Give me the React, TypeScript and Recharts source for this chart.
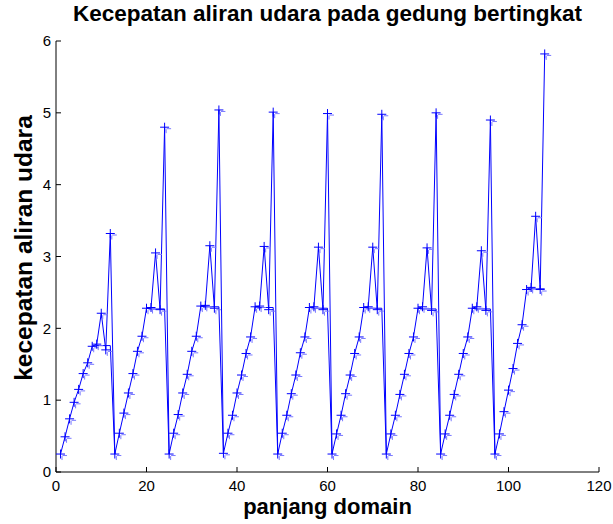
import React from 'react';
import { LineChart, Line, XAxis, YAxis } from 'recharts';

// Kecepatan aliran udara per siklus (12 titik per siklus, x = 1..108)
const cycle1 = [0.25, 0.49, 0.74, 0.97, 1.15, 1.37, 1.52, 1.75, 1.78, 2.21, 1.70, 3.32];
const cycle2 = [0.25, 0.54, 0.82, 1.10, 1.37, 1.68, 1.89, 2.28, 2.29, 3.05, 2.26, 4.80];
const cycle3 = [0.25, 0.54, 0.80, 1.10, 1.36, 1.68, 1.89, 2.31, 2.32, 3.15, 2.28, 5.04];
const cycle4 = [0.26, 0.54, 0.79, 1.10, 1.35, 1.65, 1.88, 2.30, 2.31, 3.14, 2.26, 5.01];
const cycle5 = [0.25, 0.54, 0.79, 1.09, 1.35, 1.66, 1.88, 2.29, 2.30, 3.13, 2.26, 4.99];
const cycle6 = [0.25, 0.53, 0.79, 1.09, 1.35, 1.65, 1.88, 2.29, 2.30, 3.13, 2.26, 4.98];
const cycle7 = [0.25, 0.53, 0.79, 1.08, 1.36, 1.65, 1.88, 2.28, 2.30, 3.12, 2.25, 5.00];
const cycle8 = [0.25, 0.53, 0.79, 1.08, 1.36, 1.65, 1.88, 2.28, 2.30, 3.08, 2.25, 4.90];
const cycle9 = [0.25, 0.53, 0.84, 1.14, 1.44, 1.79, 2.05, 2.54, 2.57, 3.56, 2.54, 5.82];

// level of the second (flat) line over the last four points of each cycle
const plateauLevels = [1.76, 2.27, 2.30, 2.29, 2.28, 2.28, 2.27, 2.27, 2.55];

const xTicks = [0, 20, 40, 60, 80, 100, 120];
const yTicks = [0, 1, 2, 3, 4, 5, 6];

const cycles = [cycle1, cycle2, cycle3, cycle4, cycle5, cycle6, cycle7, cycle8, cycle9];
const data = cycles.flatMap((c, ci) =>
  c.map((v, i) => {
    let base: number | null = null;
    if (i === 7) base = v;
    else if (i > 7) base = plateauLevels[ci];
    else if (i === 0 && ci > 0) base = v;
    return { x: ci * c.length + i + 1, speed: v, base };
  })
);

const FONT = '"Liberation Sans", Arial, Helvetica, sans-serif';

const PlusDot = (props: any) => {
  const { cx, cy } = props;
  if (cx == null || cy == null) return null;
  return (
    <g>
      <line x1={cx + 2} x2={cx + 6.5} y1={cy + 1.5} y2={cy + 1.5} stroke="#7a7aff" strokeWidth={1} />
      <line x1={cx + 1.5} x2={cx + 1.5} y1={cy + 2} y2={cy + 6} stroke="#7a7aff" strokeWidth={1} />
      <line x1={cx - 4.5} x2={cx + 4.5} y1={cy} y2={cy} stroke="#0000ff" strokeWidth={1} />
      <line x1={cx} x2={cx} y1={cy - 4.5} y2={cy + 4.5} stroke="#0000ff" strokeWidth={1} />
    </g>
  );
};

const empty = () => '';

export default function App() {
  return (
    <div style={{ position: 'absolute', left: 0, top: 0, width: 613, height: 524, background: '#fff' }}>
      <LineChart width={613} height={524} data={data} margin={{ top: 41, right: 14, bottom: 0, left: 0 }}>
        <XAxis
          xAxisId="b"
          dataKey="x"
          type="number"
          domain={[0, 120]}
          ticks={xTicks}
          interval={0}
          height={52}
          tickSize={-5}
          tickMargin={13}
          stroke="#000"
          tick={{ fill: '#000', fontSize: 15, fontFamily: FONT }}
          allowDataOverflow
        />
        <XAxis
          xAxisId="t"
          orientation="top"
          dataKey="x"
          type="number"
          domain={[0, 120]}
          ticks={xTicks}
          interval={0}
          height={0}
          tickSize={-5}
          tickFormatter={empty}
          stroke="#000"
          allowDataOverflow
        />
        <YAxis
          yAxisId="l"
          type="number"
          domain={[0, 6]}
          ticks={yTicks}
          interval={0}
          width={56}
          tickSize={-5}
          tickMargin={10}
          stroke="#000"
          tick={{ fill: '#000', fontSize: 15, fontFamily: FONT }}
          allowDataOverflow
        />
        <YAxis
          yAxisId="r"
          orientation="right"
          type="number"
          domain={[0, 6]}
          ticks={yTicks}
          interval={0}
          width={0}
          tickSize={-5}
          tickFormatter={empty}
          stroke="#000"
          allowDataOverflow
        />
        <Line
          xAxisId="b"
          yAxisId="l"
          dataKey="base"
          type="linear"
          stroke="#0000ff"
          strokeWidth={1}
          dot={false}
          activeDot={false}
          connectNulls={false}
          isAnimationActive={false}
        />
        <Line
          xAxisId="b"
          yAxisId="l"
          dataKey="speed"
          type="linear"
          stroke="#0000ff"
          strokeWidth={1}
          dot={<PlusDot />}
          activeDot={false}
          isAnimationActive={false}
        />
      </LineChart>
      <svg
        width={613}
        height={524}
        style={{ position: 'absolute', left: 0, top: 0, pointerEvents: 'none' }}
      >
        <text x={327.5} y={21} textAnchor="middle" fontFamily={FONT} fontWeight="bold" fontSize={22.5} fill="#000">
          Kecepatan aliran udara pada gedung bertingkat
        </text>
        <text x={327.5} y={514} textAnchor="middle" fontFamily={FONT} fontWeight="bold" fontSize={22} fill="#000">
          panjang domain
        </text>
        <text
          x={0}
          y={0}
          transform="translate(32,248) rotate(-90)"
          textAnchor="middle"
          fontFamily={FONT}
          fontWeight="bold"
          fontSize={24.5}
          fill="#000"
        >
          kecepatan aliran udara
        </text>
      </svg>
    </div>
  );
}
